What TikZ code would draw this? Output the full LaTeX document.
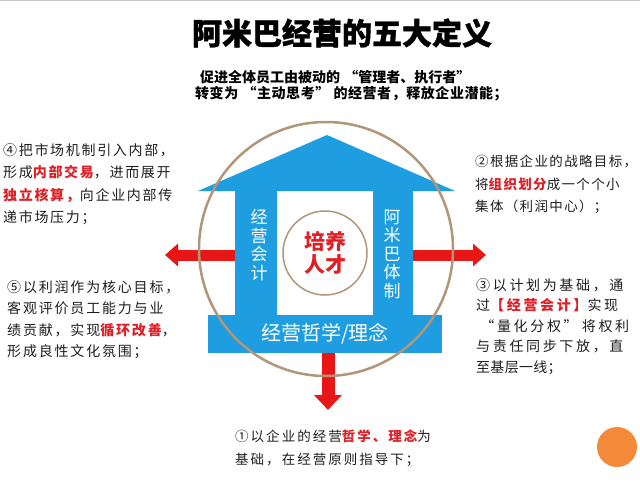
\documentclass[tikz,border=0pt]{standalone}
\usepackage{fontspec}
\usetikzlibrary{arrows.meta, positioning, calc}
\newfontfamily\cjk{Noto Sans CJK SC}
\definecolor{HouseBlue}{RGB}{30,158,224}
\definecolor{ArrowRed} {RGB}{232,22,22}
\definecolor{RingTan}  {RGB}{178,150,122}
\definecolor{TxtRed}   {RGB}{222,32,38}
\definecolor{TxtDark}  {RGB}{30,30,30}
\definecolor{DotOrange}{RGB}{242,138,58}
\def\curlsp{0}
\newcommand{\spaced}[1]{\def\curlsp{#1}\addfontfeature{LetterSpace=#1}}
\newcommand{\redtxt}[1]{{\color{TxtRed}\bfseries\addfontfeature{LetterSpace=\curlsp}#1}}
% full-width quotes
\newcommand{\lquo}{\hspace{0.3em}“}
\newcommand{\rquo}{”\hspace{0.3em}}
\tikzset{
  % blue parts of the house
  col/.style={rectangle, fill=HouseBlue, inner sep=0pt},
  coltext/.style={align=center, inner sep=0pt, text=white,
    font=\cjk\fontsize{17}{18.5}\selectfont},
  % text blocks round the ring: font size, line height, letter spacing
  txt/.style n args={3}{anchor=north west, align=left, inner sep=0pt, text=TxtDark,
    font=\cjk\fontsize{#1}{#2}\selectfont\spaced{#3}},
  sub/.style={anchor=west, inner sep=0pt, text=black,
    font=\cjk\bfseries\fontsize{14}{14}\selectfont},
  redarr/.style={draw=ArrowRed, line width=11pt,
    -{Triangle[width=22pt, length=13pt]}}
}

\begin{document}
\begin{tikzpicture}[x=1pt, y=-1pt]

  \useasboundingbox (0,0) rectangle (640,503);
  \fill[white] (0,0) rectangle (640,503);
  \draw[gray!45, line width=1pt] (0,0.5) -- (640,0.5);

  %% ── Title ─────────────────────────────────────────────────────────────────
  \node[font=\cjk\bfseries\fontsize{30}{30}\selectfont\addfontfeature{FakeBold=1.2},
        inner sep=0pt] (title) at (342,33) {阿米巴经营的五大定义};
  \node[sub] (sub1) at (200,77) {促进全体员工由被动的\lquo 管理者、执行者\rquo};
  \node[sub] (sub2) at (195,94) {\addfontfeature{LetterSpace=4}转变为\lquo 主动思考\rquo 的经营者，释放企业潜能；};

  %% ── House ─────────────────────────────────────────────────────────────────
  \coordinate (roofL) at (198,191);
  \coordinate (roofT) at (327,135);
  \coordinate (roofR) at (455,191);
  \fill[HouseBlue] (roofL) -- (roofT) -- (roofR) -- cycle;

  \node[col, minimum width=42pt, minimum height=125pt] (lcol) at (256,253) {};
  \node[col, minimum width=40pt, minimum height=125pt] (rcol) at (393,253) {};
  \node[col, minimum width=234pt, minimum height=38pt, text=white,
        font=\cjk\fontsize{20}{20}\selectfont] (base) at (325,334) {经营哲学/理念};

  \node[coltext] (ltext) at (259,245) {经\\营\\会\\计};
  \node[coltext] (rtext) at (392,254) {阿\\米\\巴\\体\\制};

  \node[circle, draw=RingTan, line width=1.5pt, minimum size=84pt, inner sep=0pt,
        align=center, text=TxtRed, font=\cjk\bfseries\fontsize{21}{23}\selectfont]
        (talent) at (325,253) {培养\\人才};

  %% ── Arrows ────────────────────────────────────────────────────────────────
  \coordinate (ltip) at (165,255);
  \coordinate (rtip) at (486,255);
  \coordinate (dtip) at (328,410);
  \draw[redarr] (lcol.west |- ltip) -- (ltip);
  \draw[redarr] (rcol.east |- rtip) -- (rtip);
  \draw[redarr, line width=13pt, -{Triangle[width=27pt, length=15pt]}]
    (base.south -| dtip) -- (dtip);

  \node[circle, draw=RingTan, line width=2.5pt, minimum size=254pt] (ring)
    at (326,249) {};

  %% ── Five definitions ──────────────────────────────────────────────────────
  \node[txt={14}{22.5}{12}] (def4) at (3,143) {
    ④把市场机制引入内部，\\
    形成\redtxt{内部交易}，进而展开\\
    \redtxt{独立核算，}向企业内部传\\
    递市场压力；};

  \node[txt={14}{21.5}{13}] (def5) at (7,280) {
    ⑤以利润作为核心目标，\\
    客观评价员工能力与业\\
    绩贡献，实现\redtxt{循环改善}，\\
    形成良性文化氛围；};

  \node[txt={13.5}{22.5}{10}] (def2) at (475,155) {
    ②根据企业的战略目标，\\
    将\redtxt{组织划分}成一个个小\\
    集体（利润中心）；};

  \node[txt={14}{20.5}{19}] (def3) at (476,278) {
    ③以计划为基础，通\\
    过\redtxt{【经营会计】}实现\\
    \lquo 量化分权\rquo 将权利\\
    与责任同步下放，直\\
    {\spaced{2}至基层一线；}};

  \node[txt={13.5}{23}{15}] (def1) at (235,430) {
    ①以企业的经营\redtxt{哲学、理念}为\\
    基础，在经营原则指导下；};

  %% ── Corner dot ────────────────────────────────────────────────────────────
  \node[circle, fill=DotOrange, minimum size=40pt, inner sep=0pt] (dot) at (617,447) {};

\end{tikzpicture}
\end{document}
